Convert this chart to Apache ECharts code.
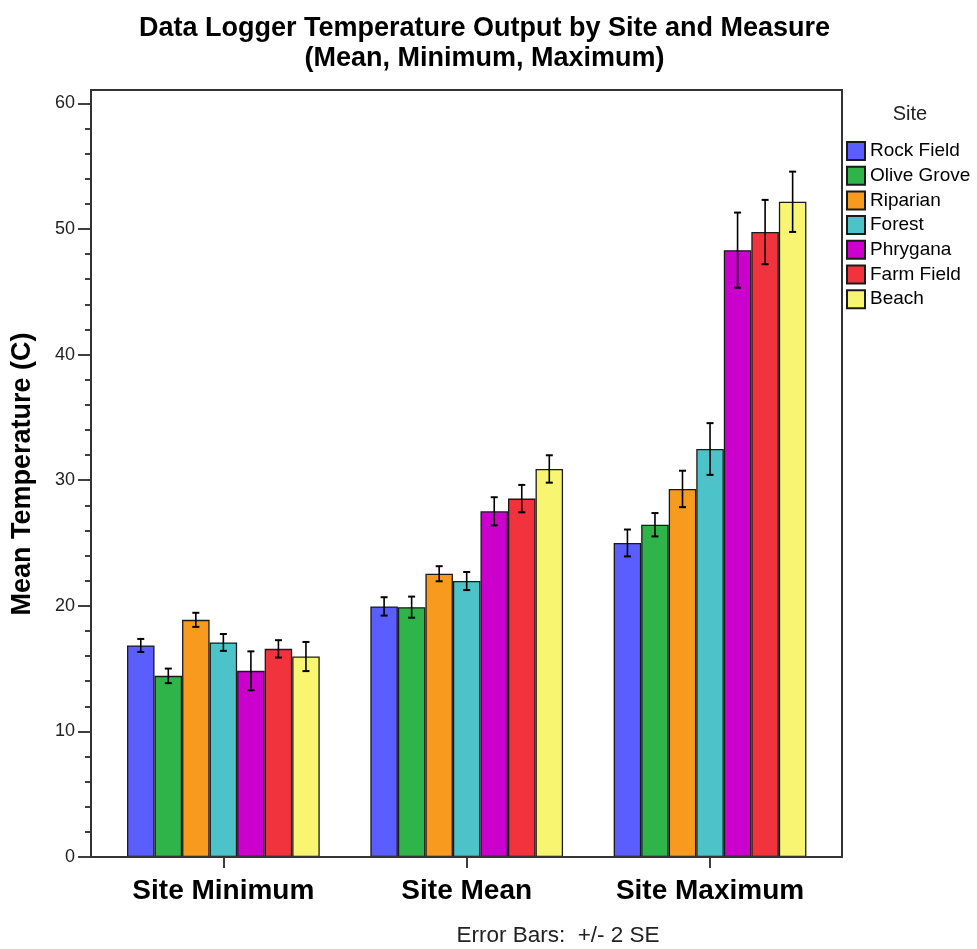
<!DOCTYPE html>
<html>
<head>
<meta charset="utf-8">
<script src="https://cdn.jsdelivr.net/npm/echarts@6/dist/echarts.min.js"></script>
<style>html,body{margin:0;padding:0;background:#fff}#chart{width:977px;height:949px}</style>
</head>
<body>
<div id="chart"></div>
<script>
// ---- data ----
var categories = ['Site Minimum', 'Site Mean', 'Site Maximum'];
var sites = ['Rock Field', 'Olive Grove', 'Riparian', 'Forest', 'Phrygana', 'Farm Field', 'Beach'];
var rockField  = [16.84, 19.95, 25.00];
var oliveGrove = [14.42, 19.89, 26.45];
var riparian   = [18.88, 22.55, 29.30];
var forest     = [17.08, 21.97, 32.48];
var phrygana   = [14.82, 27.52, 48.31];
var farmField  = [16.57, 28.53, 49.75];
var beach      = [15.96, 30.89, 52.16];
// 2 SE half widths
var rockFieldErr  = [0.52, 0.73, 1.07];
var oliveGroveErr = [0.58, 0.84, 0.93];
var riparianErr   = [0.56, 0.60, 1.45];
var forestErr     = [0.67, 0.72, 2.06];
var phryganaErr   = [1.55, 1.12, 2.99];
var farmFieldErr  = [0.69, 1.09, 2.56];
var beachErr      = [1.16, 1.09, 2.40];
var yTicks = [0, 10, 20, 30, 40, 50, 60];

var values = [rockField, oliveGrove, riparian, forest, phrygana, farmField, beach];
var errs = [rockFieldErr, oliveGroveErr, riparianErr, forestErr, phryganaErr, farmFieldErr, beachErr];
var colors = ['#5a5eff', '#2fb44a', '#f89a1e', '#4bc3c8', '#cc00cc', '#f0333c', '#f8f570'];

var FONT = '"Liberation Sans", Arial, sans-serif';
var GAP = 0.208;
var N = sites.length;

function makeErr(i) {
  return function (params, api) {
    var xi = api.value(0), lo = api.value(1), hi = api.value(2);
    var band = api.size([1, 0])[0];
    var bw = band * (1 - GAP) / N;
    var pLo = api.coord([xi, lo]);
    var pHi = api.coord([xi, hi]);
    var x = pLo[0] + (i - (N - 1) / 2) * bw;
    var cap = 3.5;
    var st = { stroke: '#000', lineWidth: 1.6 };
    var stc = { stroke: '#000', lineWidth: 2 };
    return {
      type: 'group',
      children: [
        { type: 'line', shape: { x1: x, y1: pHi[1], x2: x, y2: pLo[1] }, style: st },
        { type: 'line', shape: { x1: x - cap, y1: pHi[1], x2: x + cap, y2: pHi[1] }, style: stc },
        { type: 'line', shape: { x1: x - cap, y1: pLo[1], x2: x + cap, y2: pLo[1] }, style: stc }
      ]
    };
  };
}

var series = [];
sites.forEach(function (s, i) {
  series.push({
    name: s, type: 'bar', data: values[i],
    barGap: '0%', barCategoryGap: (GAP * 100) + '%',
    itemStyle: { color: colors[i], borderColor: '#1a1a1a', borderWidth: 1.3 },
    emphasis: { disabled: true },
    z: 2
  });
});
sites.forEach(function (s, i) {
  series.push({
    name: 'err ' + s, type: 'custom',
    renderItem: makeErr(i),
    encode: { x: 0, y: [1, 2] },
    data: categories.map(function (c, k) { return [k, values[i][k] - errs[i][k], values[i][k] + errs[i][k]]; }),
    z: 5, silent: true
  });
});

var chart = echarts.init(document.getElementById('chart'), null, { renderer: 'canvas' });
chart.setOption({
  animation: false,
  backgroundColor: '#fff',
  grid: { left: 101.7, right: 145.3, top: 103.3, bottom: 92, containLabel: false },
  xAxis: {
    type: 'category', data: categories,
    axisLine: { show: false },
    axisTick: { show: true, interval: 0, alignWithLabel: true, length: 11, lineStyle: { color: '#000', width: 1.5 } },
    axisLabel: { interval: 0, fontFamily: FONT, fontSize: 28, fontWeight: 'bold', color: '#000', margin: 20 }
  },
  yAxis: {
    type: 'value', min: yTicks[0], max: yTicks[yTicks.length - 1], interval: 10,
    offset: 10.7,
    axisLine: { show: true, lineStyle: { color: '#000', width: 1.5 } },
    axisTick: { show: true, length: 13, lineStyle: { color: '#000', width: 1.5 } },
    minorTick: { show: true, splitNumber: 5, length: 6, lineStyle: { color: '#000', width: 1.5 } },
    splitLine: { show: false },
    axisLabel: { fontFamily: FONT, fontSize: 18, color: '#222', margin: 16 }
  },
  legend: {
    data: sites, orient: 'vertical', left: 846, top: 141, padding: 0,
    itemWidth: 18, itemHeight: 18, itemGap: 4.7, icon: 'rect',
    textStyle: { fontFamily: FONT, fontSize: 19, color: '#000', lineHeight: 18, height: 18 },
    selectedMode: false
  },
  graphic: [
    { type: 'rect', shape: { x: 91, y: 90, width: 751, height: 767 }, style: { fill: null, stroke: '#333', lineWidth: 2 }, z: 10, silent: true },
    { type: 'text', x: 484.5, y: 29, style: { text: 'Data Logger Temperature Output by Site and Measure', font: 'bold 27px ' + FONT, fill: '#000', textAlign: 'center', textVerticalAlign: 'middle' } },
    { type: 'text', x: 484.5, y: 59, style: { text: '(Mean, Minimum, Maximum)', font: 'bold 27px ' + FONT, fill: '#000', textAlign: 'center', textVerticalAlign: 'middle' } },
    { type: 'text', x: 23, y: 474, rotation: Math.PI / 2, style: { text: 'Mean Temperature (C)', font: 'bold 27px ' + FONT, fill: '#000', textAlign: 'center', textVerticalAlign: 'middle' } },
    { type: 'text', x: 910, y: 114, style: { text: 'Site', font: '20px ' + FONT, fill: '#222', textAlign: 'center', textVerticalAlign: 'middle' } },
    { type: 'text', x: 558, y: 936, style: { text: 'Error Bars:  +/- 2 SE', font: '22.5px ' + FONT, fill: '#222', textAlign: 'center', textVerticalAlign: 'middle' } }
  ],
  series: series
});
</script>
</body>
</html>
